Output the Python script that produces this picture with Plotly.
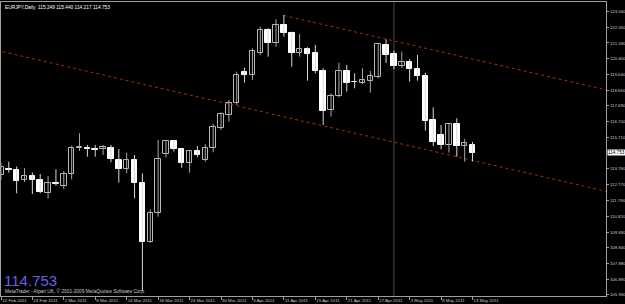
import plotly.graph_objects as go

# ---- data (bar index k: 0 = 21 Feb 2011 ... 59 = 13 May 2011) ----
bar_k = list(range(-1, 60))
opens = [113.378, 113.782, 113.689, 113.036, 113.316, 113.067, 112.289, 112.899, 112.718, 113.440,
         115.058, 115.039, 114.977, 114.996, 115.039, 114.342, 113.733, 114.342, 112.899, 109.227,
         111.001, 114.666, 115.494, 114.977, 114.106, 114.871, 114.311, 115.077, 116.321, 117.112,
         117.877, 119.769, 119.601, 120.988, 122.401, 121.611, 122.712, 122.196, 120.988, 121.200,
         120.951, 119.868, 117.423, 118.294, 119.868, 119.184, 119.122, 119.246, 119.495, 121.486,
         120.889, 120.180, 120.410, 119.974, 119.557, 116.800, 115.867, 115.245, 116.533, 115.201,
         115.249]
highs = [114.125, 114.205, 113.907, 113.795, 113.533, 113.440, 113.316, 113.733, 113.627, 115.201,
         115.973, 115.245, 115.245, 115.245, 115.245, 114.996, 114.765, 114.623, 113.484, 111.243,
         115.556, 115.556, 115.556, 115.015, 114.934, 115.183, 115.307, 116.551, 117.280, 118.045,
         119.806, 120.055, 121.262, 122.606, 122.507, 123.067, 123.335, 122.295, 122.152, 121.325,
         121.468, 120.018, 118.462, 120.366, 120.223, 119.707, 120.018, 119.850, 121.574, 121.822,
         121.113, 121.051, 120.578, 120.845, 119.744, 117.591, 116.489, 116.551, 116.906, 115.618,
         115.440]
lows = [113.067, 113.521, 112.239, 112.942, 112.195, 112.239, 111.928, 112.712, 112.507, 113.110,
        114.871, 114.517, 114.517, 114.623, 114.168, 112.899, 113.484, 111.928, 106.159, 109.146,
        110.783, 114.479, 114.828, 113.832, 113.521, 114.479, 114.205, 114.790, 116.178, 116.695,
        117.734, 119.122, 119.290, 120.845, 120.740, 121.362, 121.984, 120.117, 120.740, 119.246,
        119.707, 116.489, 117.006, 118.213, 118.562, 118.773, 119.041, 118.499, 119.395, 120.348,
        119.955, 120.018, 119.184, 119.246, 116.135, 115.183, 114.977, 114.765, 114.517, 114.205,
        114.217]
closes = [113.857, 113.689, 113.004, 113.316, 113.036, 112.301, 112.899, 112.849, 113.440, 115.039,
          115.139, 114.977, 114.902, 115.089, 114.374, 113.733, 114.342, 112.899, 109.208, 111.001,
          114.355, 115.494, 114.977, 114.106, 114.871, 114.604, 115.077, 116.384, 117.155, 117.877,
          119.601, 119.601, 121.094, 122.401, 121.611, 122.712, 122.196, 120.988, 121.200, 120.908,
          119.868, 117.379, 118.294, 119.868, 119.122, 119.134, 119.290, 119.539, 121.511, 120.845,
          120.180, 120.410, 119.974, 119.539, 116.757, 115.413, 115.245, 116.533, 115.201, 115.351,
          114.753]

date_labels = ["10 Feb 2011", "24 Feb 2011", "2 Mar 2011", "8 Mar 2011", "14 Mar 2011",
               "18 Mar 2011", "24 Mar 2011", "30 Mar 2011", "5 Apr 2011", "11 Apr 2011",
               "15 Apr 2011", "21 Apr 2011", "27 Apr 2011", "3 May 2011", "9 May 2011", "13 May 2011"]
date_label_k = [-0.95, 3, 7, 11, 15, 19, 23, 27, 31, 35, 39, 43, 47, 51, 55, 59]

price_ticks = [123.540, 122.550, 121.590, 120.600, 119.640, 118.650, 117.690, 116.700, 115.710,
               113.760, 112.770, 111.790, 110.820, 109.830, 108.840, 107.880, 106.890, 105.930]

channel_upper_k = [35, 77]
channel_upper_p = [123.30, 118.56]
channel_lower_k = [-1.5, 77]
channel_lower_p = [121.13, 112.25]
vline_k = 49

symbol = "EURJPY,Daily"
copyright_text = "MetaTrader - Alpari UK, \u00a9 2001-2009 MetaQuotes Software Corp."

# ---- build ----
bull_x, bull_base, bull_h, bear_x, bear_base, bear_h = [], [], [], [], [], []
wb_x, wb_y, wr_x, wr_y = [], [], [], []
for k, o, h, l, c in zip(bar_k, opens, highs, lows, closes):
    if c >= o:
        bull_x.append(k); bull_base.append(o); bull_h.append(max(c - o, 0.02))
        wb_x += [k, k, None]; wb_y += [l, h, None]
    else:
        bear_x.append(k); bear_base.append(c); bear_h.append(max(o - c, 0.02))
        wr_x += [k, k, None]; wr_y += [l, h, None]

fig = go.Figure()
fig.add_shape(type="line", xref="x", yref="paper", x0=vline_k, x1=vline_k, y0=0, y1=1,
              line=dict(color="#4a4a4a", width=1), layer="below")
fig.add_trace(go.Scatter(x=channel_upper_k, y=channel_upper_p, mode="lines",
                         line=dict(color="#a3300c", width=1, dash="dot"), hoverinfo="skip"))
fig.add_trace(go.Scatter(x=channel_lower_k, y=channel_lower_p, mode="lines",
                         line=dict(color="#a3300c", width=1, dash="dot"), hoverinfo="skip"))
fig.add_trace(go.Scatter(x=wb_x, y=wb_y, mode="lines", line=dict(color="#a8a8a8", width=1)))
fig.add_trace(go.Scatter(x=wr_x, y=wr_y, mode="lines", line=dict(color="#d8d8d8", width=1)))
fig.add_trace(go.Bar(x=bull_x, y=bull_h, base=bull_base, width=0.7,
                     marker=dict(color="#000000", line=dict(color="#b8b8b8", width=1))))
fig.add_trace(go.Bar(x=bear_x, y=bear_h, base=bear_base, width=0.7,
                     marker=dict(color="#ffffff", line=dict(color="#ffffff", width=1))))

last = closes[-1]
header = f"{symbol}  {opens[-1]:.3f} {highs[-1]:.3f} {lows[-1]:.3f} {closes[-1]:.3f}"
fig.add_annotation(xref="paper", yref="paper", x=0, y=1, xanchor="left", yanchor="top",
                   xshift=2, yshift=-1, text=header, showarrow=False,
                   font=dict(family="Liberation Sans, Arial", size=4.8, color="#ffffff"))
fig.add_annotation(xref="paper", yref="paper", x=0, y=0, xanchor="left", yanchor="bottom",
                   xshift=1, yshift=5, text=f"{last:.3f}", showarrow=False,
                   font=dict(family="Liberation Sans, Arial", size=15, color="#6c5fe6"))
fig.add_annotation(xref="paper", yref="paper", x=0, y=0, xanchor="left", yanchor="bottom",
                   xshift=2, yshift=0, text=copyright_text, showarrow=False,
                   font=dict(family="Liberation Sans, Arial", size=4.8, color="#c8c8c8"))
fig.add_annotation(xref="paper", yref="y", x=1, y=last, xanchor="left", yanchor="middle",
                   xshift=1, text=f"{last:.3f}", showarrow=False, bgcolor="#ffffff",
                   borderpad=0, font=dict(family="Liberation Sans, Arial", size=4.6, color="#000000"))

fig.update_layout(
    width=625, height=304, margin=dict(l=1, r=19, t=2, b=8, autoexpand=False),
    paper_bgcolor="#000000", plot_bgcolor="#000000",
    showlegend=False, barmode="overlay", bargap=0,
    font=dict(family="Liberation Sans, Arial", size=4.6, color="#c8c8c8"),
)
fig.update_xaxes(range=[-0.99, 75.98], tickvals=date_label_k, ticktext=date_labels,
                 ticks="outside", ticklen=3, tickcolor="#a0a0a0", ticklabelposition="outside right",
                 tickangle=0, automargin=False,
                 showgrid=False, zeroline=False, showline=True, mirror=True,
                 linecolor="#a0a0a0", linewidth=1, tickfont=dict(size=4.4, color="#c8c8c8"))
fig.update_yaxes(range=[105.85, 124.14], side="right", tickvals=price_ticks,
                 ticktext=[f"{v:.3f}" for v in price_ticks], automargin=False,
                 ticks="outside", ticklen=2, tickcolor="#a0a0a0",
                 showgrid=False, zeroline=False, showline=True, mirror=True,
                 linecolor="#a0a0a0", linewidth=1, tickfont=dict(size=4.4, color="#c8c8c8"))

fig.write_html("out.html")
